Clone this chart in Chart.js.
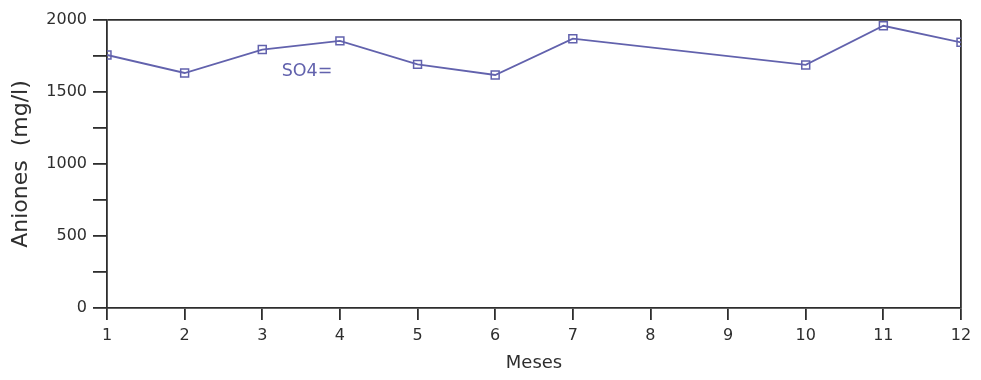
<!DOCTYPE html>
<html>
<head>
<meta charset="utf-8">
<script src="https://cdn.jsdelivr.net/npm/chart.js@4/dist/chart.umd.min.js"></script>
<style>
  html, body { margin: 0; padding: 0; background: #fff; }
  #wrap { position: relative; width: 981px; height: 380px; }
</style>
</head>
<body>
<div id="wrap"><canvas id="chart"></canvas></div>
<script>
// sulfate readings per month (months 8 and 9 have no sample)
const months = [1, 2, 3, 4, 5, 6, 7, 8, 9, 10, 11, 12];
const so4 = [1757, 1632, 1795, 1855, 1692, 1618, 1870, null, null, 1688, 1960, 1845];
const seriesName = "SO4=";
const yTitle = "Aniones  (mg/l)";
const xTitle = "Meses";

const ink = "#2e2e2e";
const blue = "#6262ad";
const font = "'DejaVu Sans', sans-serif";

// writes the series name next to the curve, in data units
const seriesLabel = {
  id: "seriesLabel",
  afterDatasetsDraw(chart) {
    const {ctx, scales} = chart;
    ctx.save();
    ctx.font = "17.5px " + font;
    ctx.fillStyle = blue;
    ctx.textBaseline = "middle";
    ctx.fillText(seriesName, scales.x.getPixelForValue(3.25), scales.y.getPixelForValue(1640));
    ctx.restore();
  }
};

const points = months.map((m, i) => ({x: m, y: so4[i]}));

new Chart(document.getElementById("chart").getContext("2d"), {
  type: "line",
  data: {
    datasets: [{
      label: seriesName,
      data: points,
      borderColor: blue,
      borderWidth: 1.8,
      pointStyle: "rect",
      pointRadius: 5.6,
      pointBorderWidth: 1.5,
      pointBackgroundColor: "rgba(0,0,0,0)",
      pointBorderColor: blue,
      spanGaps: true,
      tension: 0
    }]
  },
  options: {
    responsive: true,
    maintainAspectRatio: false,
    animation: false,
    layout: { padding: { top: 20, right: 20, left: 0, bottom: 0 } },
    plugins: { legend: { display: false }, tooltip: { enabled: false } },
    scales: {
      x: {
        type: "linear",
        min: 1,
        max: 12,
        afterFit(scale) { scale.height = 72; },
        ticks: { stepSize: 1, color: ink, font: { family: font, size: 16 }, padding: 6, maxRotation: 0 },
        grid: {
          color: c => c.tick && c.tick.value === 12 ? ink : "rgba(0,0,0,0)",
          tickColor: ink,
          tickLength: 12,
          lineWidth: 1.8
        },
        border: { color: ink, width: 1.8 },
        title: { display: true, text: xTitle, color: ink, font: { family: font, size: 18 }, padding: { top: 0, bottom: 6 } }
      },
      y: {
        min: 0,
        max: 2000,
        afterFit(scale) { scale.width = 107; },
        ticks: {
          stepSize: 250,
          color: ink,
          font: { family: font, size: 16 },
          padding: 6,
          callback: v => v % 500 === 0 ? v : ""
        },
        grid: {
          color: c => c.tick && c.tick.value === 2000 ? ink : "rgba(0,0,0,0)",
          tickColor: ink,
          tickLength: 14,
          lineWidth: 1.8
        },
        border: { color: ink, width: 1.8 },
        title: { display: true, text: yTitle, color: ink, font: { family: font, size: 22 }, padding: { top: 8, bottom: 0 } }
      }
    }
  },
  plugins: [seriesLabel]
});
</script>
</body>
</html>
